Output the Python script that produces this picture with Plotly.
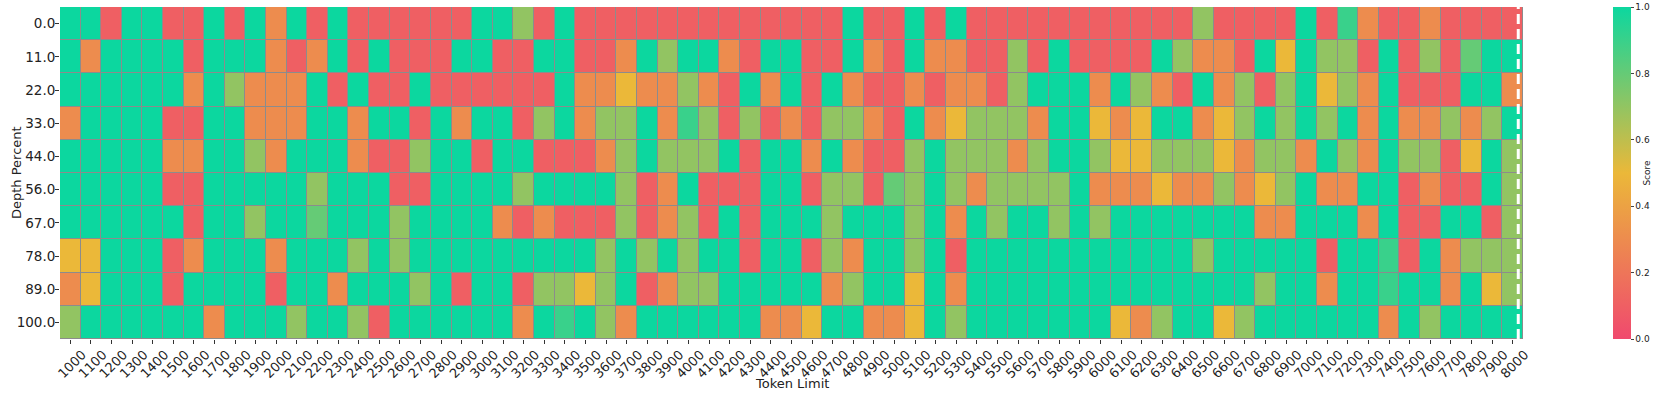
import plotly.graph_objects as go

tokens = [str(t) for t in range(1000, 8001, 100)]
depths = ["0.0", "11.0", "22.0", "33.0", "44.0", "56.0", "67.0", "78.0", "89.0", "100.0"]

T, MT, LG, G, Y, O, R = 1.0, 0.9, 0.8, 0.7, 0.5, 0.3, 0.1

row_0 = [T,T,R,T,T,R,R,T,R,T, O,T,R,T,R,R,R,R,R,R, T,T,G,R,T,R,R,R,R,R, R,R,R,R,R,R,R,R,T,R,
         R,T,R,T,R,R,R,R,R,R, R,R,R,R,R,G,R,R,R,R, T,R,MT,O,R,R,O,R,R,R, R]
row_11 = [T,O,T,T,T,T,R,T,T,T, O,R,O,T,R,T,R,R,R,T, T,R,R,T,T,R,R,O,T,G, T,T,O,R,T,T,R,R,T,O,
          R,T,O,O,R,R,G,R,T,R, R,R,R,T,G,O,O,R,T,Y, T,G,G,R,T,R,G,R,LG,T, T]
row_22 = [T,T,T,T,T,T,O,T,G,O, O,O,T,R,T,R,R,T,R,R, R,R,R,R,T,O,O,Y,O,O, G,O,R,T,O,T,R,T,O,R,
          R,O,R,O,O,R,G,T,T,T, O,T,G,O,R,T,O,G,R,G, T,Y,G,O,T,R,R,R,T,T, O]
row_33 = [O,T,T,T,T,R,R,T,T,O, O,O,T,T,O,T,T,R,T,O, T,T,R,G,T,O,G,G,T,O, MT,G,R,G,R,O,R,G,G,O,
          R,T,O,Y,G,G,G,O,T,T, Y,O,Y,T,T,O,Y,G,T,G, T,G,T,O,T,O,O,G,O,G, T]
row_44 = [T,T,T,T,T,O,O,T,T,G, O,T,T,T,O,R,R,G,T,T, R,T,T,R,R,R,O,G,T,G, G,G,T,R,T,T,O,T,O,R,
          R,G,T,G,G,G,O,G,T,T, G,Y,Y,G,G,G,Y,O,G,G, O,T,G,O,T,G,G,R,Y,T, G]
row_56 = [T,T,T,T,T,R,R,T,T,T, T,T,G,T,T,T,R,R,T,T, T,T,G,T,T,T,T,G,R,O, T,R,R,R,T,T,R,G,G,R,
          LG,G,T,G,O,G,G,G,G,T, O,O,O,Y,O,O,G,O,Y,G, T,O,O,T,T,R,O,R,R,T, G]
row_67 = [T,T,T,T,T,T,R,T,T,G, T,T,LG,T,T,T,G,T,T,T, T,O,R,O,R,R,R,G,R,O, G,R,T,R,T,T,T,G,T,T,
          T,G,T,O,T,G,T,T,G,T, G,T,T,T,T,T,T,T,O,O, T,T,T,O,T,R,R,T,T,R, G]
row_78 = [Y,Y,T,T,T,R,O,T,T,T, O,T,T,T,G,T,G,T,T,T, T,T,T,T,T,T,G,T,G,T, G,T,T,R,T,T,R,G,O,T,
          T,G,T,R,T,T,T,T,T,T, T,T,T,T,T,G,T,T,T,T, T,R,T,T,MT,R,T,O,G,G, G]
row_89 = [O,Y,T,T,T,R,T,T,T,T, R,T,T,O,T,T,T,G,T,R, T,T,R,G,G,Y,G,T,R,O, G,G,T,T,T,T,T,O,G,T,
          T,Y,T,O,T,T,T,T,T,T, T,T,T,T,T,T,T,T,G,T, T,O,T,T,MT,T,T,O,T,Y, G]
row_100 = [G,T,T,T,T,T,T,O,T,T, T,G,T,T,G,R,T,T,T,T, T,T,O,T,MT,T,G,O,T,T, T,T,T,T,O,O,Y,T,T,O,
           O,Y,T,G,T,T,T,T,T,T, T,Y,O,G,T,T,Y,G,T,T, T,T,T,T,O,T,G,T,T,T, T]

scores = [row_0, row_11, row_22, row_33, row_44, row_56, row_67, row_78, row_89, row_100]

colorscale = [[0.0, "#F0496E"], [0.5, "#EBB839"], [1.0, "#0CD79F"]]
font_family = "DejaVu Sans"
W, H = 1661, 395
ML, MR, MT_, MB = 60, 138, 7, 56
plot_w = W - ML - MR
plot_h = H - MT_ - MB

fig = go.Figure()
fig.add_trace(go.Heatmap(
    z=scores, x=tokens, y=depths,
    zmin=0, zmax=1, colorscale=colorscale,
    xgap=1, ygap=1,
    colorbar=dict(
        title=dict(text="Score", side="right", font=dict(size=9, family=font_family)),
        thickness=18, len=1.0, lenmode="fraction", y=0.5, yanchor="middle",
        x=(1613 - ML) / plot_w, xanchor="left", xpad=0, ypad=0,
        tickvals=[0, 0.2, 0.4, 0.6, 0.8, 1.0],
        ticktext=["0.0", "0.2", "0.4", "0.6", "0.8", "1.0"],
        ticks="outside", ticklen=3, tickfont=dict(size=9, family=font_family),
        outlinewidth=0,
    ),
))

line_pos = len(tokens) - 1 + 0.27
fig.add_shape(type="line", xref="x", yref="paper", x0=line_pos, x1=line_pos, y0=0, y1=1,
              line=dict(color="white", width=3, dash="10px,5px"))

fig.add_annotation(text="Token Limit", xref="paper", yref="paper",
                   x=(792 - ML) / plot_w, y=-(383 - MT_ - plot_h) / plot_h,
                   xanchor="center", yanchor="middle", showarrow=False,
                   font=dict(size=13, family=font_family, color="#222222"))
fig.add_annotation(text="Depth Percent", xref="paper", yref="paper",
                   x=-(ML - 16) / plot_w, y=0.5, textangle=-90,
                   xanchor="center", yanchor="middle", showarrow=False,
                   font=dict(size=13, family=font_family, color="#222222"))

fig.update_layout(
    width=W, height=H,
    margin=dict(l=ML, r=MR, t=MT_, b=MB, autoexpand=False),
    plot_bgcolor="#8c8c8c", paper_bgcolor="white",
    font=dict(family=font_family, color="#222222"),
)
fig.update_xaxes(
    type="category", tickangle=-45, tickfont=dict(size=13), automargin=False,
    ticks="outside", ticklen=4, tickcolor="#333333", showgrid=False,
    ticklabelshift=12, ticklabelstandoff=-2,
)
fig.update_yaxes(
    type="category", autorange="reversed", tickfont=dict(size=13.5), automargin=False,
    ticks="outside", ticklen=4, tickcolor="#333333", showgrid=False,
    ticklabelstandoff=-3,
)

fig.write_html("out.html", config={"displayModeBar": False},
               post_script="document.body.style.margin='0';document.body.style.overflow='hidden';")
